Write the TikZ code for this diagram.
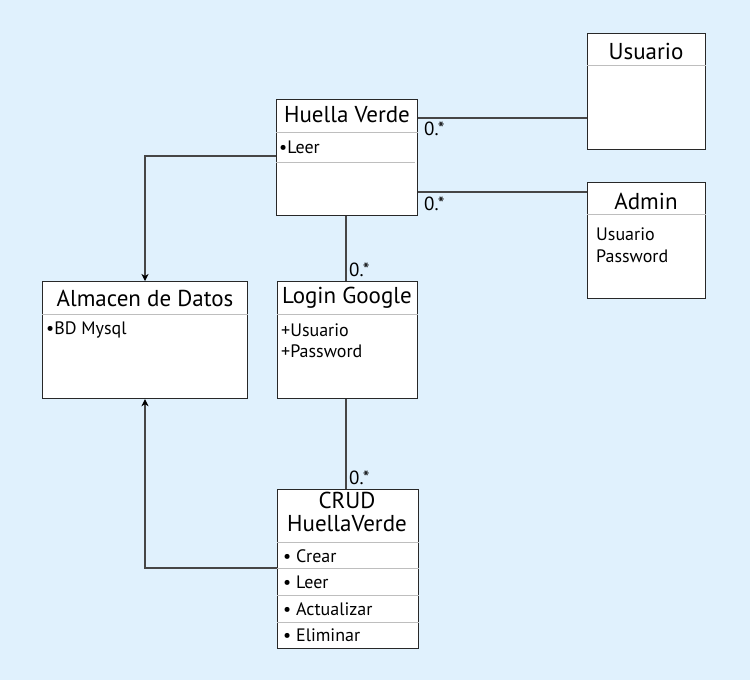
\documentclass[tikz,border=0pt]{standalone}
\usepackage{fontspec}
\setmainfont{PT Sans}
\usetikzlibrary{arrows.meta}
\definecolor{bgc}{RGB}{224,241,253}
\definecolor{boxc}{RGB}{40,40,40}
\definecolor{sepc}{RGB}{190,190,190}
\definecolor{conc}{RGB}{70,70,70}
\tikzset{
  umlbox/.style={draw=boxc, fill=white, line width=1.2pt, anchor=north west, inner sep=0pt},
  sepline/.style={draw=sepc, line width=0.8pt},
  ttl/.style={font=\fontsize{23}{27}\selectfont, text=black, inner sep=0pt},
  itm/.style={font=\fontsize{18}{21}\selectfont, text=black, anchor=west, inner sep=0pt},
  mult/.style={font=\fontsize{19}{22}\selectfont, text=black, anchor=west, inner sep=0pt},
  conn/.style={draw=conc, line width=1.1pt},
  arr/.style={-{Stealth[length=7pt,width=7pt,inset=2pt,black]}}
}
\begin{document}
\begin{tikzpicture}[x=1pt,y=-1pt]
\fill[bgc] (0,0) rectangle (750,680);
\useasboundingbox (0,0) rectangle (750,680);

% boxes
\node[umlbox, minimum width=118pt, minimum height=116pt] (us) at (587,33) {};
\node[umlbox, minimum width=141pt, minimum height=116pt] (hv) at (276,99) {};
\node[umlbox, minimum width=118pt, minimum height=116pt] (ad) at (587,182) {};
\node[umlbox, minimum width=205pt, minimum height=117pt] (al) at (42,281) {};
\node[umlbox, minimum width=140pt, minimum height=117pt] (lg) at (277,281) {};
\node[umlbox, minimum width=141pt, minimum height=159pt] (cr) at (277,489) {};

% separators
\draw[sepline] (us.west |- 0,65) -- (us.east |- 0,65);
\draw[sepline] (hv.west |- 0,132) -- (hv.east |- 0,132);
\draw[sepline] (hv.west |- 0,162) -- ([xshift=-3pt]hv.east |- 0,162);
\draw[sepline] (ad.west |- 0,214) -- (ad.east |- 0,214);
\draw[sepline] (al.west |- 0,314) -- (al.east |- 0,314);
\draw[sepline] (lg.west |- 0,314) -- (lg.east |- 0,314);
\draw[sepline] (cr.west |- 0,542) -- (cr.east |- 0,542);
\draw[sepline] (cr.west |- 0,568) -- (cr.east |- 0,568);
\draw[sepline] (cr.west |- 0,595) -- (cr.east |- 0,595);
\draw[sepline] (cr.west |- 0,622) -- (cr.east |- 0,622);

% titles
\node[ttl] (usT) at (646,51) {Usuario};
\node[ttl] (hvT) at (347,115) {Huella Verde};
\node[ttl] (adT) at (646,201) {Admin};
\node[ttl] (alT) at (145,298) {Almacen de Datos};
\node[ttl] (lgT) at (347,298) {Login Google};
\node[ttl, align=center, font=\fontsize{23}{23}\selectfont] (crT) at (347,512) {CRUD\\HuellaVerde};

% items
\node[itm] (hv1) at (279,147) {\textbullet Leer};
\node[itm] (ad1) at (596,234) {Usuario};
\node[itm] (ad2) at (596,256) {Password};
\node[itm] (al1) at (46,330) {\textbullet BD Mysql};
\node[itm] (lg1) at (281,330) {+Usuario};
\node[itm] (lg2) at (281,351) {+Password};
\node[itm] (cr1) at (283,556) {\textbullet{} Crear};
\node[itm] (cr2) at (283,582) {\textbullet{} Leer};
\node[itm] (cr3) at (283,609) {\textbullet{} Actualizar};
\node[itm] (cr4) at (283,635) {\textbullet{} Eliminar};

% connectors
\draw[conn] (hv.east |- 0,118) -- (us.west |- 0,118);
\draw[conn] (hv.east |- 0,192) -- (ad.west |- 0,192);
\draw[conn] (hv.south -| 346,0) -- (lg.north -| 346,0);
\draw[conn] (lg.south -| 346,0) -- (cr.north -| 346,0);
\draw[conn, arr] (hv.west |- 0,156) -| (al.north -| 145,0);
\draw[conn, arr] (cr.west |- 0,568) -| (al.south -| 145,0);

% multiplicities
\node[mult] (m1) at (424,129) {0.*};
\node[mult] (m2) at (424,204) {0.*};
\node[mult] (m3) at (349,270) {0.*};
\node[mult] (m4) at (349,478) {0.*};
\end{tikzpicture}
\end{document}
